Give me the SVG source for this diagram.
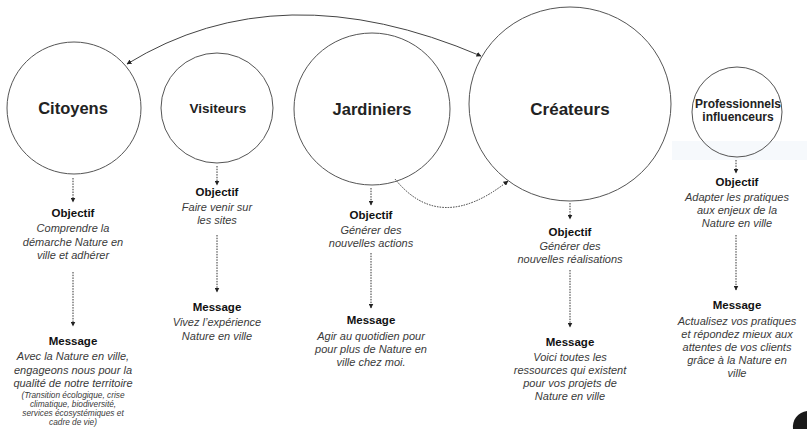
<svg xmlns="http://www.w3.org/2000/svg" width="807" height="429" viewBox="0 0 807 429">
<defs>
<marker id="ah" viewBox="0 0 10 10" refX="9" refY="5" markerWidth="5" markerHeight="5" markerUnits="userSpaceOnUse" orient="auto">
<path d="M0,0 L10,5 L0,10 z" fill="#222"/>
</marker>
<marker id="ahs" viewBox="0 0 10 10" refX="1" refY="5" markerWidth="5" markerHeight="5" markerUnits="userSpaceOnUse" orient="auto">
<path d="M10,0 L0,5 L10,10 z" fill="#222"/>
</marker>
</defs>
<style>
.c{fill:none;stroke:#555;stroke-width:1}
.t{font-family:"Liberation Sans",Arial,sans-serif;font-weight:bold;fill:#222;text-anchor:middle}
.h{font-family:"Liberation Sans",Arial,sans-serif;font-weight:bold;font-size:11.5px;fill:#111;text-anchor:middle}
.i{font-family:"Liberation Sans",Arial,sans-serif;font-style:italic;font-size:11px;fill:#3a3a3a;text-anchor:middle}
.s{font-family:"Liberation Sans",Arial,sans-serif;font-style:italic;font-size:8.3px;fill:#3a3a3a;text-anchor:middle}
.d{fill:none;stroke:#333;stroke-width:1;stroke-dasharray:1.5 1.2;marker-end:url(#ah)}
.a{fill:none;stroke:#444;stroke-width:1;marker-end:url(#ah);marker-start:url(#ahs)}
</style>
<rect width="807" height="429" fill="#fff"/>
<rect x="672" y="141" width="135" height="19" fill="#f6f9fc"/>

<g id="citoyens">
<ellipse class="c" cx="74" cy="108" rx="67" ry="66"/>
<text class="t" x="73" y="114" font-size="16.5">Citoyens</text>
<text class="h" x="73" y="217">Objectif</text>
<text class="i" x="73" y="232">Comprendre la</text>
<text class="i" x="73" y="246">démarche Nature en</text>
<text class="i" x="73" y="259">ville et adhérer</text>
<text class="h" x="73" y="345">Message</text>
<text class="i" x="73" y="360">Avec la Nature en ville,</text>
<text class="i" x="73" y="374">engageons nous pour la</text>
<text class="i" x="73" y="387">qualité de notre territoire</text>
<text class="s" x="73" y="398">(Transition écologique, crise</text>
<text class="s" x="73" y="407">climatique, biodiversité,</text>
<text class="s" x="73" y="416">services écosystémiques et</text>
<text class="s" x="73" y="425">cadre de vie)</text>
</g>

<g id="visiteurs">
<ellipse class="c" cx="217" cy="108" rx="56" ry="55"/>
<text class="t" x="218" y="113" font-size="13.5">Visiteurs</text>
<text class="h" x="217" y="196">Objectif</text>
<text class="i" x="217" y="211">Faire venir sur</text>
<text class="i" x="217" y="224">les sites</text>
<text class="h" x="217" y="311">Message</text>
<text class="i" x="217" y="326">Vivez l’expérience</text>
<text class="i" x="217" y="340">Nature en ville</text>
</g>

<g id="jardiniers">
<ellipse class="c" cx="372" cy="109" rx="78" ry="76"/>
<text class="t" x="372" y="115" font-size="16.5">Jardiniers</text>
<text class="h" x="371" y="219">Objectif</text>
<text class="i" x="371" y="234">Générer des</text>
<text class="i" x="371" y="247">nouvelles actions</text>
<text class="h" x="371" y="324">Message</text>
<text class="i" x="371" y="340">Agir au quotidien pour</text>
<text class="i" x="371" y="353">pour plus de Nature en</text>
<text class="i" x="371" y="366">ville chez moi.</text>
</g>

<g id="createurs">
<ellipse class="c" cx="570" cy="104" rx="101" ry="97"/>
<text class="t" x="570" y="115" font-size="17">Créateurs</text>
<text class="h" x="570" y="236">Objectif</text>
<text class="i" x="570" y="250">Générer des</text>
<text class="i" x="570" y="263">nouvelles réalisations</text>
<text class="h" x="570" y="346">Message</text>
<text class="i" x="570" y="361">Voici toutes les</text>
<text class="i" x="570" y="374">ressources qui existent</text>
<text class="i" x="570" y="387">pour vos projets de</text>
<text class="i" x="570" y="400">Nature en ville</text>
</g>

<g id="professionnels">
<ellipse class="c" cx="737" cy="112" rx="45" ry="45"/>
<text class="t" x="738" y="108" font-size="12">Professionnels</text>
<text class="t" x="738" y="121" font-size="12">influenceurs</text>
<text class="h" x="737" y="186">Objectif</text>
<text class="i" x="737" y="201">Adapter les pratiques</text>
<text class="i" x="737" y="214">aux enjeux de la</text>
<text class="i" x="737" y="227">Nature en ville</text>
<text class="h" x="737" y="309">Message</text>
<text class="i" x="737" y="325">Actualisez vos pratiques</text>
<text class="i" x="737" y="338">et répondez mieux aux</text>
<text class="i" x="737" y="351">attentes de vos clients</text>
<text class="i" x="737" y="364">grâce à la Nature en</text>
<text class="i" x="737" y="377">ville</text>
</g>

<g id="connectors">
<path class="a" d="M127,64 Q280,-30 481,56"/>
<path class="d" d="M395,179 Q440,235 508,181"/>
<line class="d" x1="73" y1="178" x2="73" y2="202"/>
<line class="d" x1="73" y1="272" x2="73" y2="326"/>
<line class="d" x1="217" y1="166" x2="217" y2="185"/>
<line class="d" x1="217" y1="235" x2="217" y2="292"/>
<line class="d" x1="371" y1="188" x2="371" y2="205"/>
<line class="d" x1="371" y1="253" x2="371" y2="308"/>
<line class="d" x1="570" y1="203" x2="570" y2="219"/>
<line class="d" x1="570" y1="270" x2="570" y2="327"/>
<line class="d" x1="736" y1="160" x2="736" y2="173"/>
<line class="d" x1="736" y1="235" x2="736" y2="290"/>
</g>

<path d="M807,411 A16,16 0 0 0 793,429 L807,429 z" fill="#1a1a1a"/>
</svg>
